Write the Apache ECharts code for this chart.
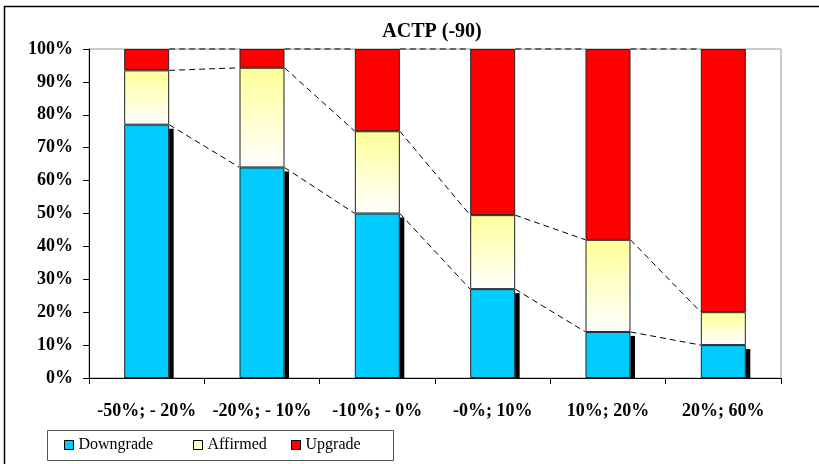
<!DOCTYPE html>
<html><head><meta charset="utf-8">
<script src="https://cdn.jsdelivr.net/npm/echarts@6/dist/echarts.min.js"></script>
<style>html,body{margin:0;padding:0;background:#fff;}#c{width:819px;height:464px;}</style>
</head><body><div id="c"></div>
<script>
var categories = ['-50%; - 20%', '-20%; - 10%', '-10%; - 0%', '-0%; 10%', '10%; 20%', '20%; 60%'];
var downgrade = [77, 64, 50, 27, 14, 10];
var affirmed = [16.5, 30.3, 25, 22.5, 28, 10];
var upgrade = [6.5, 5.7, 25, 50.5, 58, 80];
var yTicks = [0, 10, 20, 30, 40, 50, 60, 70, 80, 90, 100];

var BAR_RATIO = 0.39;
var FONT = '"Liberation Serif", "DejaVu Serif", serif';

// cumulative boundaries for series lines
var cumD = downgrade.slice();
var cumA = downgrade.map(function (d, i) { return d + affirmed[i]; });
var cumU = cumA.map(function (a, i) { return a + upgrade[i]; });
var segData = [];
[cumD, cumA, cumU].forEach(function (arr) {
  for (var i = 0; i < arr.length - 1; i++) segData.push([i, arr[i], arr[i + 1]]);
});
var shadowData = downgrade.map(function (v, i) { return [i, v]; });

var chart = echarts.init(document.getElementById('c'));
var barBorder = { borderColor: '#222', borderWidth: 1 };

function legendFor(name, color, left) {
  return {
    left: left, top: 437, padding: 0, itemWidth: 9, itemHeight: 9, itemGap: 0,
    textStyle: { fontFamily: FONT, fontSize: 16, color: '#000', padding: [0, 0, 0, 0] },
    data: [{ name: name, icon: 'rect', itemStyle: { color: color, borderColor: '#000', borderWidth: 1 } }]
  };
}

chart.setOption({
  animation: false,
  backgroundColor: '#fff',
  graphic: [
    { type: 'polyline', shape: { points: [[4.5, 470], [4.5, 6.5], [830, 6.5]] },
      style: { stroke: '#000', lineWidth: 1.5, fill: null }, silent: true },
    { type: 'rect', shape: { x: 47.5, y: 430.5, width: 346, height: 30 },
      style: { stroke: '#555', lineWidth: 1, fill: '#fff' }, z: -1, silent: true }
  ],
  title: {
    text: 'ACTP (-90)', left: 427, top: 17, textAlign: 'center',
    textStyle: { fontFamily: FONT, fontWeight: 'bold', fontSize: 20, color: '#000' }
  },
  legend: [
    legendFor('Downgrade', '#00CCFF', 64),
    legendFor('Affirmed', '#FFFFCC', 193),
    legendFor('Upgrade', '#FF0000', 291)
  ],
  grid: { left: 89, right: 38, top: 49, bottom: 86, show: true, borderColor: '#999', borderWidth: 1 },
  xAxis: {
    type: 'category', data: categories,
    axisLine: { lineStyle: { color: '#000', width: 1 } },
    axisTick: { show: true, interval: 0, length: 6, lineStyle: { color: '#000' } },
    axisLabel: { interval: 0, margin: 24, fontFamily: FONT, fontWeight: 'bold', fontSize: 18, color: '#000' }
  },
  yAxis: {
    type: 'value', min: 0, max: 100, interval: 10,
    axisLine: { show: true, lineStyle: { color: '#000', width: 1 } },
    axisTick: { show: true, length: 6, lineStyle: { color: '#000' } },
    splitLine: { show: false },
    axisLabel: { margin: 16, fontFamily: FONT, fontWeight: 'bold', fontSize: 18, color: '#000',
      formatter: function (v) { return yTicks.indexOf(v) >= 0 ? v + '%' : ''; } }
  },
  series: [
    { type: 'custom', name: 'shadow', z: 1, silent: true, data: shadowData,
      renderItem: function (params, api) {
        var i = api.value(0), v = api.value(1);
        var top = api.coord([i, v]);
        var base = api.coord([i, 0]);
        var hw = api.size([1, 0])[0] * BAR_RATIO / 2;
        return { type: 'rect', shape: { x: top[0] + hw, y: top[1] + 4, width: 4.5, height: base[1] - top[1] - 4 },
          style: { fill: '#000' } };
      } },
    { name: 'Downgrade', type: 'bar', stack: 's', barWidth: (BAR_RATIO * 100) + '%', z: 2, data: downgrade,
      itemStyle: Object.assign({ color: '#00CCFF' }, barBorder) },
    { name: 'Affirmed', type: 'bar', stack: 's', z: 2, data: affirmed,
      itemStyle: Object.assign({ color: new echarts.graphic.LinearGradient(0, 0, 0, 1,
        [{ offset: 0, color: '#FFFF99' }, { offset: 1, color: '#FFFFFF' }]) }, barBorder) },
    { name: 'Upgrade', type: 'bar', stack: 's', z: 2, data: upgrade,
      itemStyle: Object.assign({ color: '#FF0000' }, barBorder) },
    { type: 'custom', name: 'lines', z: 3, silent: true, data: segData,
      renderItem: function (params, api) {
        var i = api.value(0);
        var a = api.coord([i, api.value(1)]);
        var b = api.coord([i + 1, api.value(2)]);
        var hw = api.size([1, 0])[0] * BAR_RATIO / 2;
        return { type: 'line', shape: { x1: a[0] + hw, y1: a[1], x2: b[0] - hw, y2: b[1] },
          style: { stroke: '#000', lineWidth: 1, lineDash: [6, 4] } };
      } }
  ]
});
</script>
</body></html>
